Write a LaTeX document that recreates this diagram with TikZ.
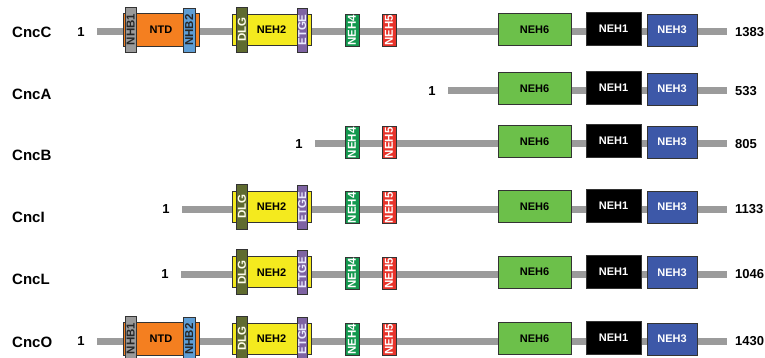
\documentclass[tikz,border=0pt]{standalone}
\usepackage{fontspec}
\setmainfont{Liberation Sans}
\definecolor{barg}{HTML}{9B9B9B}
\definecolor{cNTD}{HTML}{F47F20}
\definecolor{cNHBa}{HTML}{9A9A9A}
\definecolor{cNHBb}{HTML}{5E9ED6}
\definecolor{cDLG}{HTML}{5F6B2F}
\definecolor{cNEHtwo}{HTML}{F4EA1E}
\definecolor{cETGE}{HTML}{7E63A3}
\definecolor{cNEHfour}{HTML}{12984E}
\definecolor{cNEHfive}{HTML}{E8332A}
\definecolor{cNEHsix}{HTML}{6CC04A}
\definecolor{cNEHone}{HTML}{000000}
\definecolor{cNEHthree}{HTML}{3D58A8}
\newcommand{\pRow}[4]{%
  \coordinate (#1s) at (#2,#3);
  \coordinate (#1e) at (727,#3);
  \draw[protbar] (#1s) -- (#1e);
  \node[num] (#1one) at (#2-16,#3) {1};
  \node[num,anchor=west] (#1end) at (735,#3) {#4};
}
\newcommand{\pNTD}[2]{%
  \node[box, fill=cNTD, minimum width=76pt, minimum height=33pt] (#1ntd) at (161,#2) {NTD};
  \node[vbox, fill=cNHBa, text=black!85, minimum width=11.5pt, minimum height=45pt] (#1nhba) at (130.75,#2) {\rotatebox{90}{NHB1}};
  \node[vbox, fill=cNHBb, text=black!85, minimum width=12pt, minimum height=44pt] (#1nhbb) at (189,#2+0.5) {\rotatebox{90}{NHB2}};
}
\newcommand{\pNEHtwo}[2]{%
  \node[box, fill=cNEHtwo, minimum width=79pt, minimum height=31pt] (#1nehtwo) at (271.5,#2) {NEH2};
  \node[vbox, fill=cDLG, text=white!92!yellow, minimum width=11pt, minimum height=45pt] (#1dlg) at (242,#2) {\rotatebox{90}{DLG}};
  \node[vbox, fill=cETGE, text=white!92!blue, minimum width=10.5pt, minimum height=44pt] (#1etge) at (302.25,#2+0.5) {\rotatebox{90}{ETGE}};
}
\newcommand{\pNEHfour}[2]{%
  \node[vbox, fill=cNEHfour, text=white, minimum width=14pt, minimum height=32pt] (#1nehfour) at (352,#2+1) {\rotatebox{90}{NEH4}};
  \node[vbox, fill=cNEHfive, text=white, minimum width=14pt, minimum height=32pt] (#1nehfive) at (389,#2+1) {\rotatebox{90}{NEH5}};
}
\newcommand{\pTail}[2]{%
  \node[box, fill=cNEHsix, minimum width=73pt, minimum height=32pt] (#1nehsix) at (534.5,#2) {NEH6};
  \node[box, fill=cNEHone, text=white, minimum width=55pt, minimum height=33pt] (#1nehone) at (613.5,#2-0.5) {NEH1};
  \node[box, fill=cNEHthree, text=white, minimum width=50pt, minimum height=32pt] (#1nehthree) at (672,#2+0.5) {NEH3};
}
\begin{document}
\begin{tikzpicture}[x=1pt,y=-1pt,
  box/.style={draw=black!80, line width=0.8pt, inner sep=0pt, font=\fontsize{11}{13}\selectfont\bfseries},
  vbox/.style={box, font=\fontsize{11.5}{13}\selectfont\bfseries},
  protbar/.style={line width=7pt, draw=barg},
  lab/.style={anchor=west, inner sep=0pt, font=\fontsize{15}{18}\selectfont\bfseries},
  num/.style={inner sep=0pt, font=\fontsize{13}{15}\selectfont\bfseries}]
\useasboundingbox[fill=white] (0,0) rectangle (765,358);
% labels
\node[lab] (lC) at (12,32) {CncC};
\node[lab] (lA) at (12,94) {CncA};
\node[lab] (lB) at (12,155) {CncB};
\node[lab] (lI) at (12,217.5) {CncI};
\node[lab] (lL) at (12,279.5) {CncL};
\node[lab] (lO) at (12,342) {CncO};
% CncC
\pRow{C}{97}{32}{1383}
\pNTD{C}{29.5}
\pNEHtwo{C}{29.5}
\pNEHfour{C}{29.5}
\pTail{C}{29.5}
% CncA
\pRow{A}{448}{91}{533}
\pTail{A}{88.5}
% CncB
\pRow{B}{315}{144}{805}
\pNEHfour{B}{141.7}
\pTail{B}{141.7}
% CncI
\pRow{I}{182}{209}{1133}
\pNEHtwo{I}{206.7}
\pNEHfour{I}{206.7}
\pTail{I}{206.7}
% CncL
\pRow{L}{181}{274.5}{1046}
\pNEHtwo{L}{272.2}
\pNEHfour{L}{272.2}
\pTail{L}{272.2}
% CncO
\pRow{O}{97}{341}{1430}
\pNTD{O}{338.5}
\pNEHtwo{O}{338.5}
\pNEHfour{O}{338.5}
\pTail{O}{338.5}
\end{tikzpicture}
\end{document}
